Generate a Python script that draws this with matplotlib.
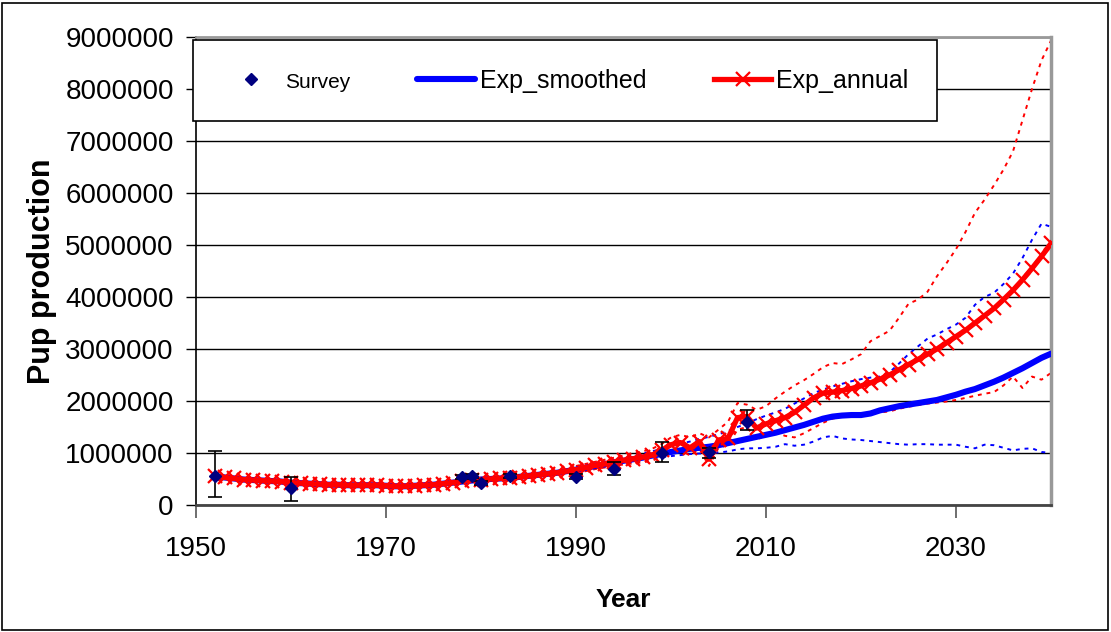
import matplotlib
matplotlib.use("Agg")
import matplotlib.pyplot as plt
from matplotlib.patches import Rectangle
from matplotlib.ticker import FuncFormatter
import numpy as np

plt.rcParams['font.family'] = ['Liberation Sans', 'DejaVu Sans']

# Data (values in millions of pups)
years = list(range(1952, 2041))
exp_annual = [0.56, 0.53, 0.51, 0.49, 0.48, 0.47, 0.46, 0.45, 0.43, 0.42,
              0.41, 0.40, 0.39, 0.39, 0.38, 0.38, 0.38, 0.38, 0.37, 0.36,
              0.36, 0.37, 0.38, 0.39, 0.41, 0.43, 0.46, 0.48, 0.49, 0.50,
              0.51, 0.52, 0.54, 0.56, 0.58, 0.60, 0.62, 0.65, 0.68, 0.72,
              0.76, 0.79, 0.83, 0.86, 0.89, 0.92, 0.96, 1.05, 1.16, 1.20,
              1.10, 1.22, 0.88, 1.25, 1.28, 1.68, 1.70, 1.48, 1.56, 1.62,
              1.68, 1.78, 1.92, 2.06, 2.15, 2.17, 2.20, 2.24, 2.29, 2.35,
              2.42, 2.50, 2.60, 2.70, 2.80, 2.90, 3.00, 3.12, 3.24, 3.36,
              3.50, 3.64, 3.78, 3.95, 4.13, 4.33, 4.55, 4.78, 5.03]
exp_smoothed = [0.55, 0.53, 0.51, 0.49, 0.48, 0.47, 0.46, 0.45, 0.43, 0.42,
                0.41, 0.40, 0.39, 0.39, 0.38, 0.38, 0.38, 0.38, 0.37, 0.36,
                0.36, 0.37, 0.38, 0.39, 0.41, 0.43, 0.45, 0.47, 0.49, 0.50,
                0.51, 0.52, 0.54, 0.56, 0.58, 0.60, 0.62, 0.65, 0.68, 0.71,
                0.75, 0.78, 0.82, 0.85, 0.88, 0.91, 0.95, 0.98, 1.02, 1.05,
                1.08, 1.10, 1.12, 1.15, 1.19, 1.23, 1.27, 1.31, 1.35, 1.39,
                1.44, 1.49, 1.54, 1.60, 1.66, 1.70, 1.72, 1.73, 1.73, 1.76,
                1.82, 1.86, 1.90, 1.93, 1.96, 1.99, 2.02, 2.07, 2.12, 2.18,
                2.23, 2.30, 2.37, 2.45, 2.54, 2.63, 2.73, 2.83, 2.91]

band_years = list(range(1990, 2041))
smoothed_hi = [0.72, 0.76, 0.80, 0.84, 0.88, 0.92, 0.95, 0.99, 1.03, 1.08,
               1.13, 1.18, 1.22, 1.27, 1.31, 1.36, 1.42, 1.50, 1.57, 1.65,
               1.72, 1.78, 1.85, 1.95, 2.05, 2.15, 2.22, 2.28, 2.33, 2.38,
               2.42, 2.45, 2.47, 2.55, 2.72, 2.90, 3.05, 3.20, 3.28, 3.38,
               3.47, 3.60, 3.85, 4.00, 4.08, 4.25, 4.45, 4.75, 5.10, 5.41, 5.35]
smoothed_lo = [0.64, 0.67, 0.71, 0.74, 0.77, 0.80, 0.83, 0.86, 0.89, 0.92,
               0.94, 0.96, 0.98, 0.99, 1.00, 1.01, 1.03, 1.07, 1.09, 1.09,
               1.10, 1.12, 1.17, 1.14, 1.16, 1.22, 1.30, 1.33, 1.28, 1.26,
               1.25, 1.23, 1.21, 1.19, 1.17, 1.16, 1.17, 1.17, 1.16, 1.16,
               1.16, 1.12, 1.09, 1.16, 1.15, 1.10, 1.05, 1.08, 1.09, 1.02, 1.00]
annual_hi = [0.75, 0.79, 0.83, 0.87, 0.91, 0.95, 0.99, 1.03, 1.08, 1.17,
             1.30, 1.35, 1.30, 1.38, 1.30, 1.45, 1.60, 1.96, 1.93, 1.83,
             1.90, 2.05, 2.18, 2.30, 2.40, 2.52, 2.65, 2.73, 2.71, 2.80,
             2.90, 3.15, 3.25, 3.35, 3.60, 3.87, 3.95, 4.10, 4.40, 4.65,
             4.92, 5.25, 5.62, 5.87, 6.15, 6.45, 6.80, 7.40, 8.00, 8.55, 8.93]
annual_lo = [0.62, 0.65, 0.69, 0.72, 0.75, 0.78, 0.80, 0.82, 0.85, 0.93,
             1.02, 1.06, 0.95, 1.08, 0.75, 1.10, 1.15, 1.45, 1.50, 1.25,
             1.35, 1.40, 1.33, 1.30, 1.38, 1.48, 1.58, 1.66, 1.70, 1.72,
             1.74, 1.76, 1.78, 1.80, 1.85, 1.89, 1.92, 1.95, 1.97, 1.99,
             2.02, 2.06, 2.10, 2.14, 2.17, 2.30, 2.47, 2.25, 2.47, 2.41, 2.54]

survey_years = [1952, 1960, 1978, 1979, 1980, 1983, 1990, 1994, 1999, 2004, 2008]
survey = [0.565, 0.33, 0.54, 0.56, 0.42, 0.56, 0.545, 0.70, 1.00, 1.01, 1.60]
survey_low = [0.15, 0.08, 0.50, 0.52, 0.38, 0.52, 0.50, 0.58, 0.83, 0.90, 1.44]
survey_high = [1.03, 0.54, 0.58, 0.60, 0.46, 0.60, 0.59, 0.82, 1.21, 1.10, 1.83]

M = 1e6
def scale(v):
    return np.array(v) * M

fig = plt.figure(figsize=(11.11, 6.32), dpi=100)
ax = fig.add_axes([196 / 1111, 1 - 505 / 632, 855 / 1111, 468 / 632])

dots = (0, (2, 2.5))
ax.plot(band_years, scale(smoothed_hi), color='blue', lw=1.4, ls=dots, zorder=2)
ax.plot(band_years, scale(smoothed_lo), color='blue', lw=1.4, ls=dots, zorder=2)
ax.plot(band_years, scale(annual_hi), color='red', lw=1.4, ls=dots, zorder=2)
ax.plot(band_years, scale(annual_lo), color='red', lw=1.4, ls=dots, zorder=2)

smooth_line, = ax.plot(years, scale(exp_smoothed), color='blue', lw=4.4, zorder=3,
                       solid_capstyle='round')
annual_line, = ax.plot(years, scale(exp_annual), color='red', lw=3.8, marker='x',
                       markersize=10, markeredgewidth=1.6, zorder=4)

s = scale(survey)
ax.errorbar(survey_years, s, yerr=[s - scale(survey_low), scale(survey_high) - s],
            fmt='none', ecolor='black', elinewidth=1.2, capsize=5, capthick=1.2, zorder=5)
survey_pts, = ax.plot(survey_years, s, ls='none', marker='D', color='#000080',
                      markersize=6.5, zorder=6)

ax.set_xlim(1950, 2040)
ax.set_ylim(0, 9e6)
ax.set_xticks([1950, 1970, 1990, 2010, 2030])
ax.set_yticks(np.arange(0, 9.01e6, 1e6))
ax.yaxis.set_major_formatter(FuncFormatter(lambda v, p: f"{int(round(v))}"))
ax.yaxis.grid(True, color='black', lw=1)
ax.set_axisbelow(True)

ax.tick_params(axis='both', direction='out', labelsize=20, colors='black')
ax.tick_params(axis='x', length=9, width=1.2, pad=13, color='#555555')
ax.tick_params(axis='y', length=7, width=1, pad=9)

ax.spines['left'].set_color('black')
ax.spines['left'].set_linewidth(1.2)
ax.spines['bottom'].set_color('#444444')
ax.spines['bottom'].set_linewidth(2)
ax.spines['top'].set_color('#999999')
ax.spines['top'].set_linewidth(2)
ax.spines['right'].set_color('#999999')
ax.spines['right'].set_linewidth(2.5)

ax.set_xlabel('Year', fontsize=19, fontweight='bold', labelpad=19)
ax.set_ylabel('Pup production', fontsize=22, fontweight='bold', labelpad=6)

leg = ax.legend([survey_pts, smooth_line, annual_line],
                ['Survey', 'Exp_smoothed', 'Exp_annual'],
                ncol=3, loc='upper left', bbox_to_anchor=(-0.003, 0.994, 0.87, 0.0),
                mode='expand', fancybox=False, edgecolor='black', framealpha=1,
                borderaxespad=0, borderpad=1.15, fontsize=18, handlelength=2.3,
                handletextpad=0.2)
leg.get_frame().set_linewidth(1.2)
leg.get_texts()[0].set_fontsize(15)
leg.set_zorder(10)

fig.patches.append(Rectangle((0.002, 0.003), 0.995, 0.993, transform=fig.transFigure,
                             fill=False, edgecolor='black', lw=1.2))

fig.savefig('out.png', dpi=100)
